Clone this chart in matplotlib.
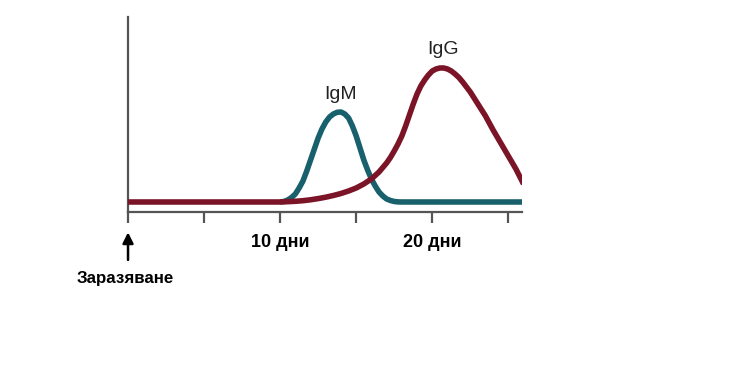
import matplotlib
matplotlib.use('Agg')
from matplotlib import pyplot as plt

plt.rcParams['font.family'] = ['Liberation Sans', 'DejaVu Sans']

# antibody level (arbitrary units) by day after infection
igm_days = [10, 10.25, 10.5, 10.75, 11, 11.25, 11.5, 11.75, 12, 12.25, 12.5, 12.75, 13, 13.25,
            13.5, 13.75, 14, 14.25, 14.5, 14.75, 15, 15.25, 15.5, 15.75, 16, 16.25, 16.5, 16.75,
            17, 17.25, 17.5, 17.75, 18, 26]
igm_level = [0, 0.5, 2, 4.5, 8, 14, 21, 31, 42, 53, 64, 73, 80, 85,
             88, 89.7, 90, 88, 84, 76, 66, 54, 42, 32, 23, 16, 10, 6,
             3, 1.5, 0.5, 0.1, 0, 0]

igg_days = [0, 10, 10.5, 11, 11.5, 12, 12.5, 13, 13.5, 14, 14.5, 15, 15.5, 16, 16.5,
            17, 17.25, 17.5, 17.75, 18, 18.25, 18.5, 18.75, 19, 19.25, 19.5, 19.75, 20, 20.25,
            20.5, 20.75, 21, 21.25, 21.5, 21.75, 22, 22.25, 22.5, 22.75, 23, 23.25, 23.5, 23.75,
            24, 24.25, 24.5, 24.75, 25, 25.25, 25.5, 25.75, 26]
igg_level = [0, 0, 0.3, 0.7, 1.3, 2.2, 3.4, 4.8, 6.5, 8.5, 11, 14, 18, 23, 30,
             39, 44.5, 51, 58, 66, 76, 87, 98, 108, 116, 122, 127, 131, 133,
             134, 134, 133, 131, 128, 124.5, 120, 115, 110, 104, 98, 92, 86, 79,
             72, 65.5, 59, 52.5, 46, 39.5, 33, 25.5, 18]

tick_days = [0, 5, 10, 15, 20, 25]
tick_labels = ['', '', '10 дни', '', '20 дни', '']

fig = plt.figure(figsize=(7.5, 3.75), dpi=100)
ax = fig.add_axes([0.1707, 0.4347, 0.5253, 0.52])

ax.plot(igm_days, igm_level, color='#17606c', lw=4, solid_joinstyle='round',
        solid_capstyle='butt', zorder=3)
ax.plot(igg_days, igg_level, color='#7a1426', lw=4, solid_joinstyle='round',
        solid_capstyle='butt', zorder=4)

ax.text(13.95, 107, 'IgM', ha='center', va='center', fontsize=14, color='#222222')
ax.text(20.7, 152, 'IgG', ha='center', va='center', fontsize=14, color='#222222')

ax.set_xlim(0, 25.9)
ax.set_ylim(-10, 185)
for side in ['top', 'right']:
    ax.spines[side].set_visible(False)
for side in ['left', 'bottom']:
    ax.spines[side].set_color('#555555')
    ax.spines[side].set_linewidth(1.6)

ax.set_yticks([])
ax.set_xticks(tick_days)
ax.set_xticklabels(tick_labels, fontsize=13, fontweight='bold')
ax.tick_params(axis='x', direction='out', length=8, width=1.6, color='#555555', pad=8)

ax.annotate('', xy=(0, -0.09), xytext=(0, -0.26), xycoords=('data', 'axes fraction'),
            arrowprops=dict(arrowstyle='-|>', color='black', lw=1.8, mutation_scale=16),
            annotation_clip=False)
ax.text(-0.2, -0.34, 'Заразяване', transform=ax.get_xaxis_transform(), ha='center',
        va='center', fontsize=12.2, fontweight='bold', clip_on=False)

plt.savefig('out.png', dpi=100)
plt.close()
